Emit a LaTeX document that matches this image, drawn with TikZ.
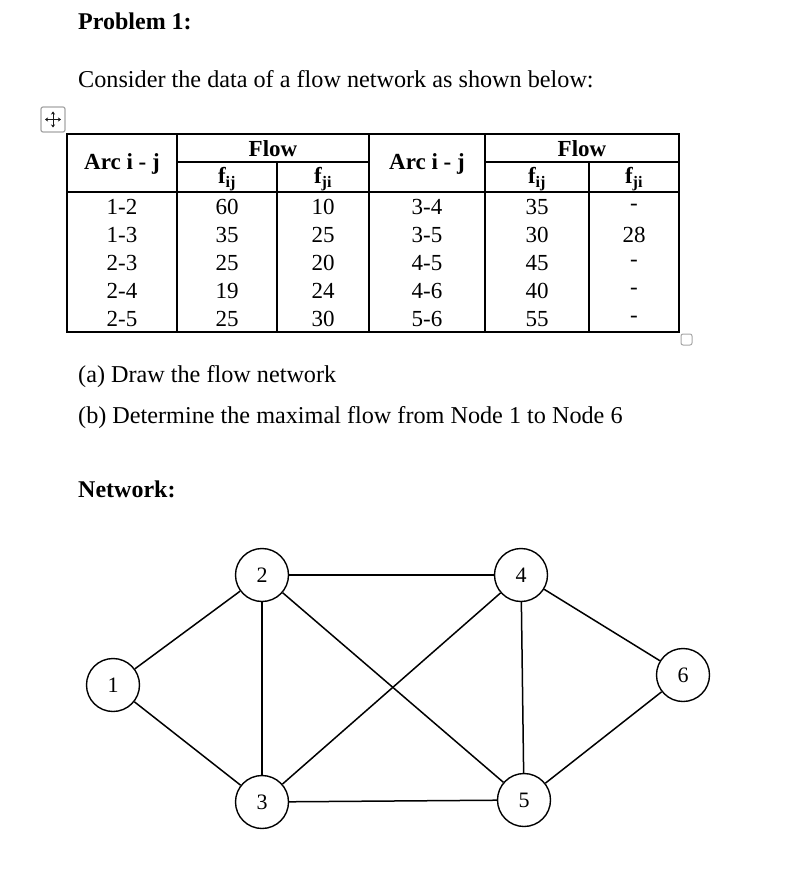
\documentclass[tikz,border=0pt]{standalone}
\usepackage{fontspec}
\setmainfont{Liberation Serif}
\usetikzlibrary{arrows.meta}
\begin{document}
\begin{tikzpicture}[x=1pt,y=-1pt,
  txt/.style={anchor=west,inner sep=0pt,font=\fontsize{24.2}{28}\selectfont},
  btxt/.style={anchor=west,inner sep=0pt,font=\fontsize{24}{28}\selectfont\bfseries},
  cell/.style={inner sep=0pt,font=\fontsize{23}{27}\selectfont},
  hcell/.style={inner sep=0pt,font=\fontsize{23}{27}\selectfont\bfseries},
  tline/.style={line width=2.2pt},
  vertex/.style={circle,draw,line width=1.4pt,minimum size=53pt,inner sep=0pt,font=\fontsize{22}{26}\selectfont},
  edge/.style={line width=1.5pt},
  handle/.style={draw=gray!70,line width=1.2pt,rounded corners=2pt}]
\useasboundingbox (0,0) rectangle (794,874);
% texts
\node[btxt] (title) at (78,21) {Problem 1:};
\node[txt] (intro) at (78,79) {Consider the data of a flow network as shown below:};
\node[txt] (qa) at (78,377) {(a) Draw the flow network};
\node[txt] (qb) at (78,418) {(b) Determine the maximal flow from Node 1 to Node 6};
\node[btxt] (net) at (78,489) {Network:};
% move handle
\draw[handle,fill=white] (41,107) rectangle (65,132);
\draw[line width=1pt,gray!20!black,{Stealth[length=3pt,width=4pt]}-{Stealth[length=3pt,width=4pt]}] (45,119.5) -- (61,119.5);
\draw[line width=1pt,gray!20!black,{Stealth[length=3pt,width=4pt]}-{Stealth[length=3pt,width=4pt]}] (53,111.5) -- (53,127.5);
% resize handle
\draw[handle,line width=1pt] (681,334) rectangle (692,345);
% table
\draw[tline] (67,134) rectangle (679,332);
\draw[tline] (177,162) -- (369,162);
\draw[tline] (485,162) -- (679,162);
\draw[tline] (67,192) -- (679,192);
\draw[tline] (177,134) -- (177,332);
\draw[tline] (277,162) -- (277,332);
\draw[tline] (369,134) -- (369,332);
\draw[tline] (485,134) -- (485,332);
\draw[tline] (589,162) -- (589,332);
\node[hcell] (arcA) at (122,164) {Arc i - j};
\node[hcell] (arcB) at (427,164) {Arc i - j};
\node[hcell] (flowA) at (273,149) {Flow};
\node[hcell] (flowB) at (582,149) {Flow};
\node[hcell] (fijA) at (227,179) {f\textsubscript{ij}};
\node[hcell] (fjiA) at (323,179) {f\textsubscript{ji}};
\node[hcell] (fijB) at (537,179) {f\textsubscript{ij}};
\node[hcell] (fjiB) at (634,179) {f\textsubscript{ji}};
\foreach \i/\a/\b/\c/\d/\e/\f in {0/1-2/60/10/3-4/35/-,1/1-3/35/25/3-5/30/28,2/2-3/25/20/4-5/45/-,3/2-4/19/24/4-6/40/-,4/2-5/25/30/5-6/55/-}{
  \pgfmathsetmacro{\yy}{207+28*\i}
  \node[cell] (ra\i) at (122,\yy) {\a};
  \node[cell] (rb\i) at (227,\yy) {\b};
  \node[cell] (rc\i) at (323,\yy) {\c};
  \node[cell] (rd\i) at (427,\yy) {\d};
  \node[cell] (re\i) at (537,\yy) {\e};
  \node[cell] (rf\i) at (634,\yy) {\f};
}
% network
\node[vertex] (n1) at (113,685) {1};
\node[vertex] (n2) at (262,575) {2};
\node[vertex] (n3) at (262,802) {3};
\node[vertex] (n4) at (521,575) {4};
\node[vertex] (n5) at (524,800) {5};
\node[vertex] (n6) at (683,675) {6};
\draw[edge] (n1) -- (n2);
\draw[edge] (n1) -- (n3);
\draw[edge] (n2) -- (n3);
\draw[edge] (n2) -- (n4);
\draw[edge] (n2) -- (n5);
\draw[edge] (n3) -- (n4);
\draw[edge] (n3) -- (n5);
\draw[edge] (n4) -- (n5);
\draw[edge] (n4) -- (n6);
\draw[edge] (n5) -- (n6);
\end{tikzpicture}
\end{document}
